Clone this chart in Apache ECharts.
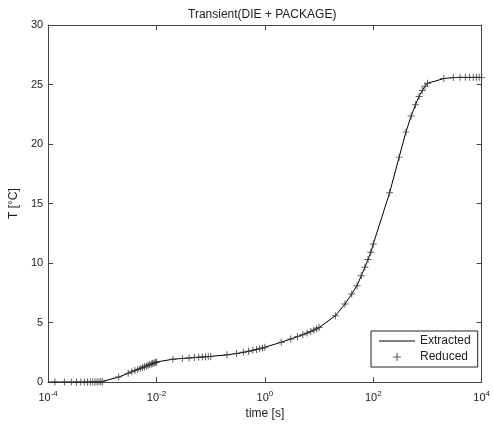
<!DOCTYPE html>
<html><head><meta charset="utf-8">
<script src="https://cdn.jsdelivr.net/npm/echarts@6/dist/echarts.min.js"></script>
<style>html,body{margin:0;padding:0;background:#fff}#c{width:493px;height:425px}</style>
</head><body><div id="c"></div>
<script>
// Reduced model sample times [s]
const reducedTime = [
  1.333e-4, 2e-4, 2.667e-4, 3.333e-4, 4e-4, 4.667e-4, 5.333e-4, 6e-4, 6.667e-4, 7.333e-4, 8e-4, 8.667e-4, 9.333e-4, 1e-3,
  2e-3, 3e-3, 3.5e-3, 4e-3, 4.5e-3, 5e-3, 5.5e-3, 6e-3, 6.5e-3, 7e-3, 7.5e-3, 8e-3, 8.5e-3, 9e-3, 9.5e-3, 1e-2,
  2e-2, 3e-2, 4e-2, 5e-2, 6e-2, 7e-2, 8e-2, 9e-2, 1e-1,
  0.2, 0.3, 0.4, 0.5, 0.6, 0.7, 0.8, 0.9, 1,
  2, 3, 4, 5, 6, 7, 8, 9, 10,
  20, 30, 40, 50, 60, 70, 80, 90, 100,
  200, 300, 400, 500, 600, 700, 800, 900, 1000,
  2000, 3000, 4000, 5000, 6000, 7000, 8000, 9000, 10000
];
// Reduced model temperature rise [°C]
const reducedTemp = [
  0, 0, 0, 0, 0, 0, 0, 0, 0.01, 0.01, 0.01, 0.02, 0.02, 0.03,
  0.42, 0.74, 0.86, 0.97, 1.06, 1.15, 1.22, 1.29, 1.36, 1.42, 1.47, 1.52, 1.57, 1.61, 1.65, 1.69,
  1.92, 1.99, 2.03, 2.06, 2.08, 2.10, 2.12, 2.14, 2.16,
  2.29, 2.40, 2.50, 2.59, 2.67, 2.74, 2.81, 2.87, 2.93,
  3.35, 3.62, 3.82, 3.98, 4.12, 4.25, 4.37, 4.48, 4.58,
  5.58, 6.56, 7.40, 8.10, 8.94, 9.64, 10.30, 10.90, 11.60,
  15.9, 18.9, 21.0, 22.35, 23.3, 24.0, 24.5, 24.85, 25.1,
  25.5, 25.58, 25.6, 25.6, 25.6, 25.6, 25.6, 25.6, 25.6
];
// Extracted curve: starts at t=1e-4, then follows the same samples
const extractedStartTime = 1e-4;
const extractedStartTemp = 0;
const seriesNames = ['Extracted', 'Reduced'];
const xMin = 1e-4, xMax = 1e4;
const yMin = 0, yMax = 30, yStep = 5;

const FONT = 'Liberation Sans, Arial, sans-serif';
const TXT = '#222';
const AX = '#444';

const reducedData = reducedTime.map((t, i) => [t, reducedTemp[i]]);
const extractedData = [[extractedStartTime, extractedStartTemp]].concat(reducedData);

const plusPath = 'path://M4.3,0h1.4v4.3h4.3v1.4h-4.3v4.3h-1.4v-4.3h-4.3v-1.4h4.3z';
const lineIconPath = 'path://M0,0h36v1h-36z';

const chart = echarts.init(document.getElementById('c'), null, {renderer: 'canvas'});
const axisLine = {show: true, onZero: false, lineStyle: {color: AX, width: 1}};
const axisTick = {show: true, inside: true, length: 5, lineStyle: {color: AX, width: 1}};
chart.setOption({
  animation: false,
  backgroundColor: '#fff',
  textStyle: {fontFamily: FONT},
  title: {
    text: 'Transient(DIE + PACKAGE)',
    left: 183, top: 4,
    textStyle: {fontFamily: FONT, fontSize: 12, fontWeight: 'normal', color: TXT}
  },
  grid: {left: 46, right: 6, top: 25, bottom: 42, containLabel: false},
  legend: {
    orient: 'vertical',
    left: 371, top: 331,
    padding: [4, 7, 4, 8],
    itemGap: 4,
    itemWidth: 36, itemHeight: 8,
    backgroundColor: '#fff',
    borderColor: '#222', borderWidth: 1, borderRadius: 0,
    textStyle: {fontFamily: FONT, fontSize: 12, color: TXT},
    data: [
      {name: seriesNames[0], icon: lineIconPath, itemStyle: {color: '#000'}},
      {name: seriesNames[1]}
    ]
  },
  xAxis: [{
    type: 'log', logBase: 10, min: xMin, max: xMax, interval: 2,
    position: 'bottom',
    name: 'time [s]', nameLocation: 'middle', nameGap: 24,
    nameTextStyle: {fontFamily: FONT, fontSize: 12, color: TXT},
    axisLine, axisTick,
    splitLine: {show: false}, minorTick: {show: false},
    axisLabel: {
      margin: 8, color: TXT, fontFamily: FONT,
      formatter: v => '{b|10}{s|' + Math.round(Math.log10(v)) + '}',
      rich: {
        b: {fontSize: 11, fontFamily: FONT, color: TXT},
        s: {fontSize: 8, fontFamily: FONT, color: TXT, padding: [0, 0, 7, 0]}
      }
    }
  }, {
    type: 'log', logBase: 10, min: xMin, max: xMax, interval: 2,
    position: 'top',
    axisLine, axisTick,
    splitLine: {show: false},
    axisLabel: {show: false}
  }],
  yAxis: [{
    type: 'value', min: yMin, max: yMax, interval: yStep,
    position: 'left',
    name: 'T [°C]', nameLocation: 'middle', nameGap: 24, nameRotate: 90,
    nameTextStyle: {fontFamily: FONT, fontSize: 12, color: TXT},
    axisLine, axisTick,
    splitLine: {show: false},
    axisLabel: {margin: 5, fontSize: 11, fontFamily: FONT, color: TXT}
  }, {
    type: 'value', min: yMin, max: yMax, interval: yStep,
    position: 'right',
    axisLine, axisTick,
    splitLine: {show: false},
    axisLabel: {show: false}
  }],
  series: [{
    name: seriesNames[0],
    type: 'line',
    data: extractedData,
    symbol: 'none',
    showSymbol: false,
    smooth: false,
    lineStyle: {color: '#000', width: 1},
    itemStyle: {color: '#000'},
    z: 2
  }, {
    name: seriesNames[1],
    type: 'scatter',
    data: reducedData,
    symbol: plusPath,
    symbolSize: 7,
    itemStyle: {color: '#333'},
    z: 3
  }]
});
</script>
</body></html>
